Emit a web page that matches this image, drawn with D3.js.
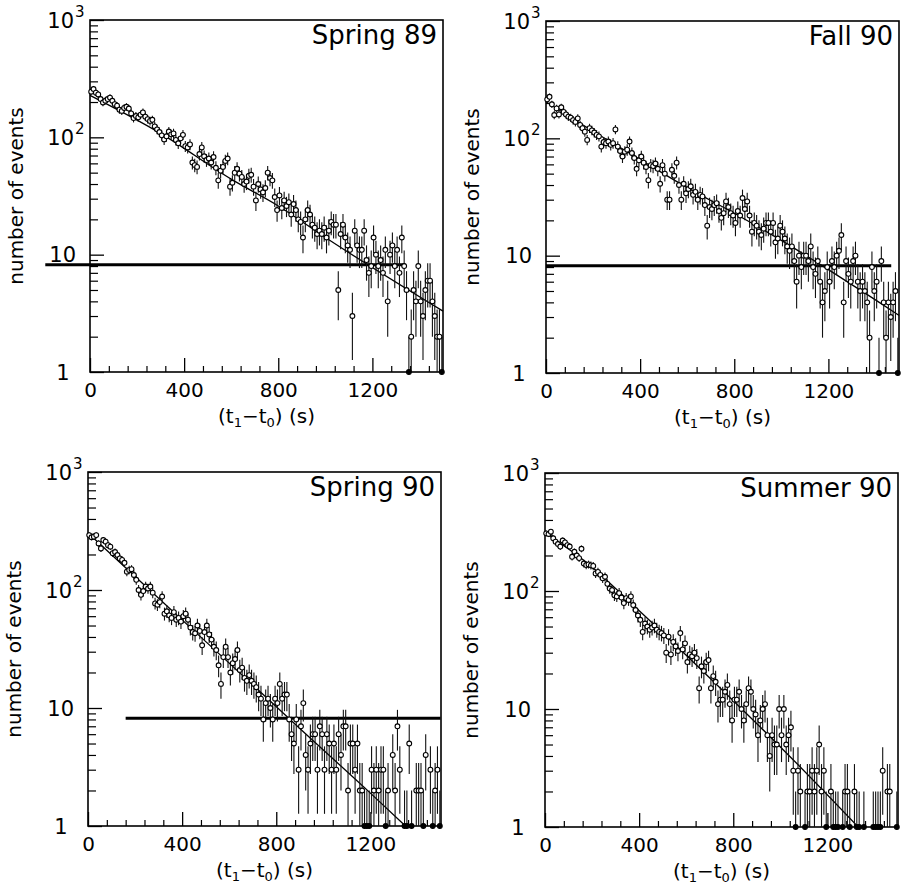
<!DOCTYPE html>
<html><head><meta charset="utf-8">
<script src="https://cdn.jsdelivr.net/npm/d3@7"></script>
<style>
body{margin:0;background:#fff}
svg{display:block}
text{font-family:"DejaVu Sans",sans-serif;fill:#000}
</style>
</head><body>
<svg id="chart" width="901" height="889"></svg>
<script>
// ---------------- data ----------------
const binWidth = 10;               // s per bin (150 bins, 0..1500 s)
const majorTicksX = [0, 400, 800, 1200];
const minorTicksX = [80,160,240,320,480,560,640,720,880,960,1040,1120,1280,1360,1440];
const decadesY = [1, 10, 100, 1000];
const minorTicksY = [2,3,4,5,6,7,8,9,20,30,40,50,60,70,80,90,200,300,400,500,600,700,800,900];
const panelTitles = ["Spring 89", "Fall 90", "Spring 90", "Summer 90"];
const xTitle = ["(t", "1", "\u2212t", "0", ") (s)"];
const yTitle = "number of events";

const spring89Counts = [245,258,240,232,212,198,205,212,218,205,192,186,172,168,178,182,176,160,146,152,
148,156,163,150,143,138,141,124,117,111,104,96,102,112,106,108,95,89,98,105,
84,82,87,61,58,56,72,82,69,64,66,61,68,55,43,52,56,63,66,38,
41,50,54,49,46,40,42,47,48,38,29,40,36,34,37,50,45,43,31,24,
32,25,29,26,28,22,27,24,20,19,14,20,24,22,18,17,15,16,15,17,
14,16,19,18,18,5,15,18,14,12,11,3,16,12,11,11,16,9,7,8,
14,10,8,9,7,11,4,10,12,8,11,7,14,8,5,1,2,5,4,8,
4,3,5,6,6,4,3,2,2,1];

const fall90Counts = [215,226,195,158,180,160,184,168,160,153,150,143,138,148,130,122,114,97,122,117,
112,107,104,85,93,91,94,88,91,119,85,78,70,77,80,94,75,68,55,65,
70,62,57,44,59,58,61,55,41,59,50,30,30,54,48,62,40,30,41,34,
37,39,33,35,30,33,32,27,18,26,25,27,28,24,21,23,29,26,23,22,
19,24,22,31,25,29,22,16,19,18,16,15,17,19,19,16,19,13,14,18,
16,14,12,11,12,9,6,10,8,10,10,9,12,8,7,9,6,4,5,8,
6,9,8,10,11,15,4,9,7,6,9,10,6,5,6,5,4,2,8,5,
6,1,9,4,2,4,3,4,5,1];

const spring90Counts = [292,280,283,292,248,225,265,257,240,233,205,210,198,185,180,170,143,148,150,134,
122,100,91,98,107,103,107,95,77,75,79,88,63,66,61,58,65,56,58,54,
60,63,56,48,44,43,50,45,34,44,50,42,38,33,31,23,16,27,33,27,
20,24,26,31,21,22,18,17,19,17,16,15,13,12,8,11,12,10,8,12,
11,16,12,13,13,8,6,5,8,3,7,11,4,3,5,6,6,3,7,6,
3,6,5,3,5,3,6,4,7,7,2,5,5,3,5,2,2,1,1,1,
3,2,3,2,3,3,1,2,0,4,2,7,3,0,1,1,5,1,0,2,
2,2,1,4,0,3,1,2,3,1];

const summer90Counts = [308,304,318,280,262,250,238,268,258,245,238,195,215,200,190,228,171,166,168,165,
163,141,145,137,128,132,115,105,102,92,90,96,88,79,87,84,90,76,69,62,
57,45,53,50,47,49,51,47,45,44,42,30,41,29,37,34,31,44,32,36,
25,29,28,30,27,15,23,21,25,26,15,19,17,11,12,12,14,16,11,8,
12,12,14,10,8,11,15,14,10,9,6,8,10,11,6,4,6,5,5,10,
6,10,5,6,7,3,1,3,2,0,1,2,2,3,2,3,5,2,3,1,
0,2,1,1,1,0,1,2,2,1,0,2,1,1,0,1,0,0,0,1,
1,1,1,3,0,2,2,0,0,1];

// fitted curves
const fitTimes89 = [0, 300, 600, 800, 1020, 1500];
const fitValues89 = [228, 108, 44, 26, 13.2, 3.3];
const fitTimes90f = [0, 200, 400, 600, 800, 1000, 1200, 1400, 1500];
const fitValues90f = [205, 115, 66, 38, 23, 13.5, 7.6, 4.2, 3.1];
const fitTimes90s = [0, 300, 600, 900, 1200, 1349];
const fitValues90s = [304, 85, 24, 6.7, 1.9, 1];
const fitTimes90u = [0, 163, 397, 797, 1013, 1331];
const fitValues90u = [310, 183, 69, 11.9, 4.5, 1];

// horizontal reference lines
const refLevel = [8.2, 8.2, 8.2, null];
const refFrom = [-190, 0, 160, null];
const refTo = [1340, 1467, 1498, null];

const seriesList = [spring89Counts, fall90Counts, spring90Counts, summer90Counts];
const fitTimesList = [fitTimes89, fitTimes90f, fitTimes90s, fitTimes90u];
const fitValuesList = [fitValues89, fitValues90f, fitValues90s, fitValues90u];

// ---------------- layout ----------------
const layout = [
  {x0: 90,  y0: 20,  w: 353, h: 352},
  {x0: 546, y0: 21,  w: 353, h: 352},
  {x0: 88,  y0: 472, w: 353, h: 354},
  {x0: 545, y0: 473, w: 353, h: 354}
];

const svg = d3.select("#chart");

layout.forEach((L, p) => {
  const g = svg.append("g").attr("transform", `translate(${L.x0},${L.y0})`);
  const x = d3.scaleLinear().domain([0, 1500]).range([0, L.w]);
  const y = d3.scaleLog().domain([1, 1000]).range([L.h, 0]);

  // frame
  g.append("rect").attr("width", L.w).attr("height", L.h)
    .attr("fill", "none").attr("stroke", "#000").attr("stroke-width", 1.6);

  // x axis ticks (inward)
  const xMaj = g.append("g").attr("transform", `translate(0,${L.h})`)
    .call(d3.axisBottom(x).tickValues(majorTicksX).tickSize(-14).tickPadding(11).tickFormat(d3.format("d")));
  xMaj.select(".domain").remove();
  xMaj.selectAll("line").attr("stroke-width", 1.3);
  xMaj.selectAll("text").attr("font-size", 20).attr("font-family", "DejaVu Sans").attr("fill", "#000");
  const xMin = g.append("g").attr("transform", `translate(0,${L.h})`)
    .call(d3.axisBottom(x).tickValues(minorTicksX).tickSize(-6).tickFormat(""));
  xMin.select(".domain").remove();
  xMin.selectAll("line").attr("stroke-width", 1.2);

  // y axis ticks (inward)
  const yMaj = g.append("g").call(d3.axisLeft(y).tickValues(decadesY).tickSize(-14).tickFormat(""));
  yMaj.select(".domain").remove();
  yMaj.selectAll("line").attr("stroke-width", 1.3);
  const yMin = g.append("g").call(d3.axisLeft(y).tickValues(minorTicksY).tickSize(-8).tickFormat(""));
  yMin.select(".domain").remove();
  yMin.selectAll("line").attr("stroke-width", 1.2);

  // y labels
  decadesY.forEach(d => {
    const ty = y(d);
    if (d === 1) {
      g.append("text").attr("x", -27).attr("y", ty + 7.5).attr("text-anchor", "middle")
        .attr("font-size", 21).text("1");
    } else {
      const exp = Math.round(Math.log10(d));
      g.append("text").attr("x", exp === 1 ? -14 : -16).attr("y", ty + 7.5).attr("text-anchor", "end")
        .attr("font-size", 21).text("10");
      if (exp > 1) {
        g.append("text").attr("x", -15).attr("y", ty - 3).attr("text-anchor", "start")
          .attr("font-size", 15).text(String(exp));
      }
    }
  });

  // axis titles
  const xt = g.append("text").attr("x", L.w / 2).attr("y", L.h + 51)
    .attr("text-anchor", "middle").attr("font-size", 20);
  xt.append("tspan").text(xTitle[0]);
  xt.append("tspan").attr("font-size", 13).attr("dy", 4).text(xTitle[1]);
  xt.append("tspan").attr("dy", -4).text(xTitle[2]);
  xt.append("tspan").attr("font-size", 13).attr("dy", 4).text(xTitle[3]);
  xt.append("tspan").attr("dy", -4).text(xTitle[4]);

  g.append("text").attr("transform", `translate(-67,${L.h / 2}) rotate(-90)`)
    .attr("text-anchor", "middle").attr("font-size", 20).text(yTitle);

  // panel title
  g.append("text").attr("x", L.w - 6).attr("y", 24).attr("text-anchor", "end")
    .attr("font-size", 26).text(panelTitles[p]);

  // reference line
  if (refLevel[p] !== null) {
    g.append("line").attr("x1", x(refFrom[p])).attr("x2", x(refTo[p]))
      .attr("y1", y(refLevel[p])).attr("y2", y(refLevel[p]))
      .attr("stroke", "#000").attr("stroke-width", 3);
  }

  // fit line
  const fitPts = fitTimesList[p].map((t, i) => [t, fitValuesList[p][i]]);
  g.append("path").datum(fitPts)
    .attr("d", d3.line().x(d => x(d[0])).y(d => y(d[1])).curve(d3.curveMonotoneX))
    .attr("fill", "none").attr("stroke", "#000").attr("stroke-width", 1.3);

  // data
  const pts = seriesList[p].map((n, i) => ({t: i * binWidth + binWidth / 2, n}))
    .filter(d => d.n > 0);
  g.append("g").selectAll("line").data(pts).join("line")
    .attr("x1", d => x(d.t)).attr("x2", d => x(d.t))
    .attr("y1", d => y(Math.max(1, d.n - Math.sqrt(d.n))))
    .attr("y2", d => y(d.n + Math.sqrt(d.n)))
    .attr("stroke", "#111").attr("stroke-width", 1.1);
  g.append("g").selectAll("circle").data(pts).join("circle")
    .attr("cx", d => x(d.t)).attr("cy", d => y(d.n)).attr("r", 2.4)
    .attr("fill", d => d.n === 1 ? "#000" : "#fff")
    .attr("stroke", "#000").attr("stroke-width", 1.1);
});
</script>
</body></html>
